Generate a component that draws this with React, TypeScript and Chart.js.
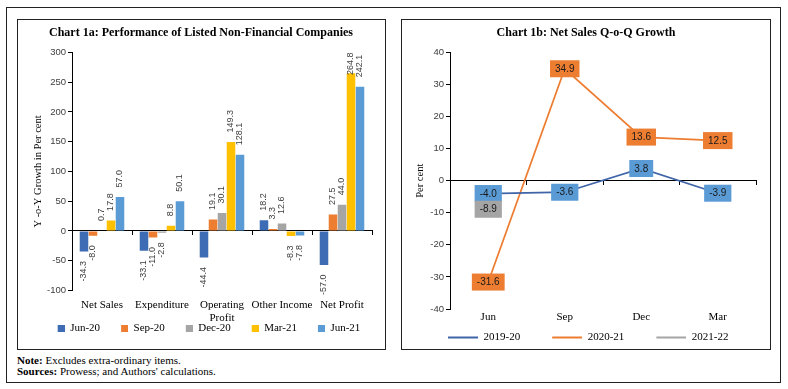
import React, { useEffect, useRef } from 'react';
import { Chart, registerables } from 'chart.js';

Chart.register(...registerables);

// ---------- Chart 1a data ----------
const barCategories: (string | string[])[] = ['Net Sales', 'Expenditure', ['Operating', 'Profit'], 'Other Income', 'Net Profit'];
const barSeriesNames = ['Jun-20', 'Sep-20', 'Dec-20', 'Mar-21', 'Jun-21'];
const jun20 = [-34.3, -33.1, -44.4, 18.2, -57.0];
const sep20 = [-8.0, -11.0, 19.1, 3.3, 27.5];
const dec20 = [0.7, -2.8, 30.1, 12.6, 44.0];
const mar21 = [17.8, 8.8, 149.3, -8.3, 264.8];
const jun21 = [57.0, 50.1, 128.1, -7.8, 242.1];
const barColors = ['#3E6CB4', '#ED7D31', '#A5A5A5', '#FFC000', '#5B9BD5'];

// ---------- Chart 1b data ----------
const quarters = ['Jun', 'Sep', 'Dec', 'Mar'];
const lineSeriesNames = ['2019-20', '2020-21', '2021-22'];
const fy1920 = [-4.0, -3.6, 3.8, -3.9];
const fy2021 = [-31.6, 34.9, 13.6, 12.5];
const fy2122 = [-8.9, null, null, null];
const lineColors = ['#3F64A8', '#ED7D31', '#A5A5A5'];
const lineBoxColors = ['#5B9BD5', '#ED7D31', '#A5A5A5'];

const SANS = '"Liberation Sans", Arial, sans-serif';
const SERIF = '"Liberation Serif", "Times New Roman", serif';

// legend marker images (transparent lead-in gives the item spacing)
function squareMarker(color: string) {
  const c = document.createElement('canvas');
  c.width = 23;
  c.height = 7;
  const g = c.getContext('2d')!;
  g.fillStyle = color;
  g.fillRect(16, 0, 7, 7);
  return c;
}
function lineMarker(color: string) {
  const c = document.createElement('canvas');
  c.width = 54;
  c.height = 4;
  const g = c.getContext('2d')!;
  g.fillStyle = color;
  g.fillRect(24, 1, 30, 2);
  return c;
}

const barLabelPlugin = {
  id: 'barLabels',
  afterDatasetsDraw(chart: any) {
    const ctx = chart.ctx;
    const top = chart.chartArea.top;
    ctx.save();
    ctx.font = `9px ${SANS}`;
    ctx.fillStyle = '#404040';
    chart.data.datasets.forEach((ds: any, i: number) => {
      const meta = chart.getDatasetMeta(i);
      meta.data.forEach((el: any, j: number) => {
        const v = ds.data[j];
        if (v === null || v === undefined) return;
        const txt = v.toFixed(1);
        const tw = ctx.measureText(txt).width;
        ctx.save();
        let yy = v >= 0 ? el.y - 9.5 : el.y + 9.5;
        if (v >= 0 && yy - tw < top) yy = top + tw;
        ctx.translate(el.x, yy);
        ctx.rotate(-Math.PI / 2);
        ctx.textAlign = v >= 0 ? 'left' : 'right';
        ctx.textBaseline = 'middle';
        ctx.fillText(txt, 0, 0);
        ctx.restore();
      });
    });
    ctx.restore();
  },
};

const lineLabelPlugin = {
  id: 'lineLabels',
  afterDatasetsDraw(chart: any) {
    const ctx = chart.ctx;
    ctx.save();
    ctx.font = `10px ${SANS}`;
    ctx.textAlign = 'center';
    ctx.textBaseline = 'middle';
    chart.data.datasets.forEach((ds: any, i: number) => {
      const meta = chart.getDatasetMeta(i);
      meta.data.forEach((el: any, j: number) => {
        const v = ds.data[j];
        if (v === null || v === undefined) return;
        const txt = v.toFixed(1);
        const w = ctx.measureText(txt).width + 10;
        const h = 17;
        ctx.fillStyle = lineBoxColors[i];
        ctx.fillRect(el.x - w / 2, el.y - h / 2, w, h);
        ctx.fillStyle = '#1a1a1a';
        ctx.fillText(txt, el.x, el.y + 0.5);
      });
    });
    ctx.restore();
  },
};

const hiddenSpacer = (h: number) => ({
  type: 'category',
  axis: 'x',
  position: 'bottom',
  grid: { display: false, drawTicks: false },
  border: { display: false },
  ticks: { display: false },
  afterFit: (s: any) => {
    s.height = h;
  },
});

function BarChart() {
  const ref = useRef<HTMLCanvasElement>(null);
  useEffect(() => {
    const seriesData = [jun20, sep20, dec20, mar21, jun21];
    const markers = barColors.map(squareMarker);
    const chart = new Chart(ref.current!, {
      type: 'bar',
      data: {
        labels: barCategories as any,
        datasets: seriesData.map((d, i) => ({
          label: barSeriesNames[i],
          data: d,
          backgroundColor: barColors[i],
          borderWidth: 0,
          categoryPercentage: 0.75,
          barPercentage: 0.95,
          xAxisID: 'x',
          yAxisID: 'y',
        })),
      },
      options: {
        responsive: false,
        maintainAspectRatio: false,
        animation: false,
        layout: { padding: { left: 0, right: 0, top: 0, bottom: 4.5 } },
        plugins: {
          title: {
            display: true,
            text: 'Chart 1a: Performance of Listed Non-Financial Companies',
            font: { family: SERIF, size: 12, weight: 'bold' },
            color: '#000',
            padding: { top: 6, bottom: 12 },
          },
          legend: {
            position: 'bottom',
            labels: {
              usePointStyle: true,
              pointStyleWidth: 23,
              boxHeight: 11,
              padding: 5,
              font: { family: SERIF, size: 11 },
              color: '#000',
              generateLabels: (c: any) =>
                (Chart as any).defaults.plugins.legend.labels
                  .generateLabels(c)
                  .map((l: any, i: number) => ({ ...l, pointStyle: markers[i] })),
            },
          },
          tooltip: { enabled: false },
        },
        scales: {
          x: {
            type: 'category',
            axis: 'x',
            position: { y: -100 },
            grid: { display: false, drawTicks: false },
            border: { display: false },
            ticks: {
              maxRotation: 0,
              autoSkip: false,
              font: { family: SERIF, size: 11 },
              color: '#000',
              padding: 8,
            },
          },
          x0: {
            type: 'category',
            axis: 'x',
            position: { y: 0 },
            grid: { drawOnChartArea: false, tickLength: 4, color: '#000' },
            border: { color: '#000' },
            ticks: { display: false },
          },
          xs: hiddenSpacer(27),
          y: {
            min: -100,
            max: 300,
            ticks: {
              stepSize: 50,
              font: { family: SANS, size: 9.5 },
              color: '#404040',
              padding: 2,
            },
            grid: { drawOnChartArea: false, tickLength: 4, color: '#000' },
            border: { color: '#000' },
            title: {
              display: true,
              text: 'Y -o-Y Growth in Per cent',
              font: { family: SERIF, size: 10.5 },
              color: '#000',
              padding: { top: 14, bottom: 0 },
            },
            afterFit: (s: any) => {
              s.width = 54;
            },
          },
          yR: {
            type: 'linear',
            axis: 'y',
            position: 'right',
            grid: { display: false },
            border: { display: false },
            ticks: { display: false },
            afterFit: (s: any) => {
              s.width = 12;
            },
          },
        },
      } as any,
      plugins: [barLabelPlugin],
    });
    return () => chart.destroy();
  }, []);
  return <canvas ref={ref} width={366} height={328} style={{ width: 366, height: 328, display: 'block' }} />;
}

function LineChart() {
  const ref = useRef<HTMLCanvasElement>(null);
  useEffect(() => {
    const seriesData = [fy1920, fy2021, fy2122];
    const markers = lineColors.map(lineMarker);
    const chart = new Chart(ref.current!, {
      type: 'line',
      data: {
        labels: quarters,
        datasets: seriesData.map((d, i) => ({
          label: lineSeriesNames[i],
          data: d,
          borderColor: lineColors[i],
          backgroundColor: lineColors[i],
          borderWidth: 1.75,
          pointRadius: 0,
          tension: 0,
          xAxisID: 'x',
          yAxisID: 'y',
        })),
      },
      options: {
        responsive: false,
        maintainAspectRatio: false,
        animation: false,
        layout: { padding: { left: 14, right: 13, top: 0, bottom: 0 } },
        plugins: {
          title: {
            display: true,
            text: 'Chart 1b: Net Sales Q-o-Q Growth',
            font: { family: SERIF, size: 12, weight: 'bold' },
            color: '#000',
            padding: { top: 6, bottom: 12 },
          },
          legend: {
            position: 'bottom',
            align: 'start',
            labels: {
              usePointStyle: true,
              pointStyleWidth: 54,
              boxHeight: 11,
              padding: 8,
              font: { family: SERIF, size: 11 },
              color: '#000',
              generateLabels: (c: any) =>
                (Chart as any).defaults.plugins.legend.labels
                  .generateLabels(c)
                  .map((l: any, i: number) => ({ ...l, pointStyle: markers[i] })),
            },
          },
          tooltip: { enabled: false },
        },
        scales: {
          x: {
            type: 'category',
            axis: 'x',
            position: { y: -40 },
            offset: true,
            grid: { display: false, drawTicks: false },
            border: { display: false },
            ticks: {
              maxRotation: 0,
              autoSkip: false,
              font: { family: SERIF, size: 11 },
              color: '#000',
              padding: 2,
            },
          },
          x0: {
            type: 'category',
            axis: 'x',
            position: { y: 0 },
            offset: true,
            grid: { drawOnChartArea: false, tickLength: 4, color: '#000', offset: true },
            border: { color: '#000' },
            ticks: { display: false },
          },
          xs: hiddenSpacer(15),
          y: {
            min: -40,
            max: 40,
            ticks: {
              stepSize: 10,
              font: { family: SANS, size: 9.5 },
              color: '#404040',
              padding: 2,
            },
            grid: { drawOnChartArea: false, tickLength: 4, color: '#000' },
            border: { color: '#000' },
            title: {
              display: true,
              text: 'Per cent',
              font: { family: SERIF, size: 10.5 },
              color: '#000',
              padding: { top: -2, bottom: 0 },
            },
            afterFit: (s: any) => {
              s.width = 34;
            },
          },
        },
      } as any,
      plugins: [lineLabelPlugin],
    });
    return () => chart.destroy();
  }, []);
  return <canvas ref={ref} width={367} height={333} style={{ width: 367, height: 333, display: 'block' }} />;
}

export default function App() {
  return (
    <div style={{ position: 'absolute', left: 0, top: 0, width: 788, height: 389, background: '#fff', overflow: 'hidden' }}>
      <div style={{ position: 'absolute', left: 6, top: 7, width: 775, height: 376, border: '1px solid #222', boxSizing: 'border-box' }} />
      <div style={{ position: 'absolute', left: 17, top: 19, width: 369, height: 331, border: '1px solid #222', boxSizing: 'border-box' }}>
        <BarChart />
      </div>
      <div style={{ position: 'absolute', left: 401, top: 19, width: 370, height: 331, border: '1px solid #222', boxSizing: 'border-box' }}>
        <LineChart />
      </div>
      <div style={{ position: 'absolute', left: 17, top: 355, fontFamily: SERIF, fontSize: 11, lineHeight: '11px', color: '#000' }}>
        <div><b>Note:</b> Excludes extra-ordinary items.</div>
        <div><b>Sources:</b> Prowess; and Authors' calculations.</div>
      </div>
    </div>
  );
}
